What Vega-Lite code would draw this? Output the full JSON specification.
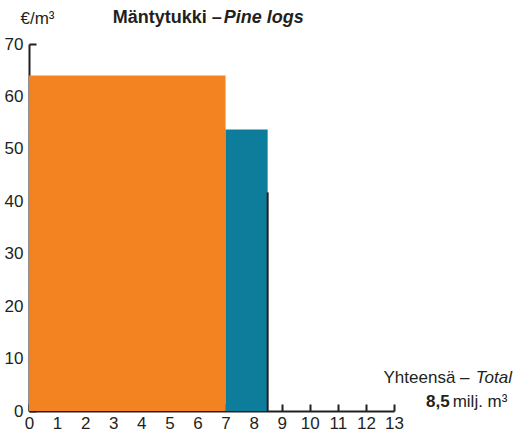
{
  "$schema": "https://vega.github.io/schema/vega-lite/v6.json",
  "width": 365,
  "height": 367,
  "autosize": {"type": "none"},
  "padding": {"left": 29, "top": 44, "right": 120, "bottom": 23},
  "background": "white",
  "config": {
    "view": {"stroke": null},
    "font": "Liberation Sans, Arial",
    "axis": {
      "grid": false,
      "zindex": 1,
      "domainColor": "#231f20",
      "domainWidth": 2,
      "tickColor": "#231f20",
      "tickWidth": 2,
      "tickSize": -7,
      "labelFont": "Liberation Sans, Arial",
      "labelFontSize": 17,
      "labelColor": "#231f20",
      "labelOverlap": false
    },
    "axisX": {"labelPadding": 11, "labelFlush": false, "title": null},
    "axisY": {"labelPadding": 13}
  },
  "datasets": {
    "bars": [
      {"start": 0, "end": 7, "price": 64, "group": "A"},
      {"start": 7, "end": 8.5, "price": 53.7, "group": "B"}
    ],
    "line": [
      {"pos": 8.5, "low": 0, "high": 41.7}
    ]
  },
  "layer": [
    {
      "data": {"name": "bars"},
      "mark": {"type": "rect"},
      "encoding": {
        "x": {"field": "start", "type": "quantitative",
          "scale": {"domain": [0, 13], "nice": false, "zero": false},
          "axis": {"values": [0,1,2,3,4,5,6,7,8,9,10,11,12,13], "title": null}},
        "x2": {"field": "end"},
        "y": {"field": "price", "type": "quantitative",
          "scale": {"domain": [0, 70], "nice": false},
          "axis": {"values": [0,10,20,30,40,50,60,70],
            "title": "€/m³", "titleAngle": 0, "titleAlign": "center", "titleBaseline": "middle",
            "titleX": 8, "titleY": -26, "titleFontWeight": "normal", "titleFontSize": 17,
            "titleFont": "Liberation Sans, Arial", "titleColor": "#231f20"}},
        "y2": {"datum": 0},
        "color": {"field": "group", "type": "nominal",
          "scale": {"domain": ["A", "B"], "range": ["#F38321", "#0E7D9C"]}, "legend": null}
      }
    },
    {
      "data": {"name": "line"},
      "mark": {"type": "rule", "color": "#231f20", "strokeWidth": 2},
      "encoding": {
        "x": {"field": "pos", "type": "quantitative", "axis": {"values": [0,1,2,3,4,5,6,7,8,9,10,11,12,13], "title": null}},
        "y": {"field": "low", "type": "quantitative", "axis": {"values": [0,10,20,30,40,50,60,70], "title": "€/m³"}},
        "y2": {"field": "high"}
      }
    },
    {
      "data": {"values": [{}]},
      "mark": {"type": "text", "text": "Mäntytukki –", "align": "right", "baseline": "middle", "fontWeight": "bold", "fontSize": 18, "color": "#231f20"},
      "encoding": {
        "x": {"datum": 6.87, "type": "quantitative", "axis": {"values": [0,1,2,3,4,5,6,7,8,9,10,11,12,13], "title": null}},
        "y": {"datum": 75, "type": "quantitative", "axis": {"values": [0,10,20,30,40,50,60,70], "title": "€/m³"}}}
    },
    {
      "data": {"values": [{}]},
      "mark": {"type": "text", "text": "Pine logs", "align": "left", "baseline": "middle", "fontWeight": "bold", "fontStyle": "italic", "fontSize": 18, "color": "#231f20"},
      "encoding": {
        "x": {"datum": 6.94, "type": "quantitative", "axis": {"values": [0,1,2,3,4,5,6,7,8,9,10,11,12,13], "title": null}},
        "y": {"datum": 75, "type": "quantitative", "axis": {"values": [0,10,20,30,40,50,60,70], "title": "€/m³"}}}
    },
    {
      "data": {"values": [{}]},
      "mark": {"type": "text", "text": "Yhteensä –", "align": "right", "baseline": "middle", "fontSize": 17, "color": "#231f20"},
      "encoding": {
        "x": {"datum": 15.69, "type": "quantitative", "axis": {"values": [0,1,2,3,4,5,6,7,8,9,10,11,12,13], "title": null}},
        "y": {"datum": 6.3, "type": "quantitative", "axis": {"values": [0,10,20,30,40,50,60,70], "title": "€/m³"}}}
    },
    {
      "data": {"values": [{}]},
      "mark": {"type": "text", "text": "Total", "align": "left", "baseline": "middle", "fontStyle": "italic", "fontSize": 17, "color": "#231f20"},
      "encoding": {
        "x": {"datum": 15.91, "type": "quantitative", "axis": {"values": [0,1,2,3,4,5,6,7,8,9,10,11,12,13], "title": null}},
        "y": {"datum": 6.3, "type": "quantitative", "axis": {"values": [0,10,20,30,40,50,60,70], "title": "€/m³"}}}
    },
    {
      "data": {"values": [{}]},
      "mark": {"type": "text", "text": "8,5", "align": "right", "baseline": "middle", "fontWeight": "bold", "fontSize": 17, "color": "#231f20"},
      "encoding": {
        "x": {"datum": 14.98, "type": "quantitative", "axis": {"values": [0,1,2,3,4,5,6,7,8,9,10,11,12,13], "title": null}},
        "y": {"datum": 1.7, "type": "quantitative", "axis": {"values": [0,10,20,30,40,50,60,70], "title": "€/m³"}}}
    },
    {
      "data": {"values": [{}]},
      "mark": {"type": "text", "text": "milj. m³", "align": "left", "baseline": "middle", "fontSize": 17, "color": "#231f20"},
      "encoding": {
        "x": {"datum": 15.09, "type": "quantitative", "axis": {"values": [0,1,2,3,4,5,6,7,8,9,10,11,12,13], "title": null}},
        "y": {"datum": 1.7, "type": "quantitative", "axis": {"values": [0,10,20,30,40,50,60,70], "title": "€/m³"}}}
    }
  ]
}
